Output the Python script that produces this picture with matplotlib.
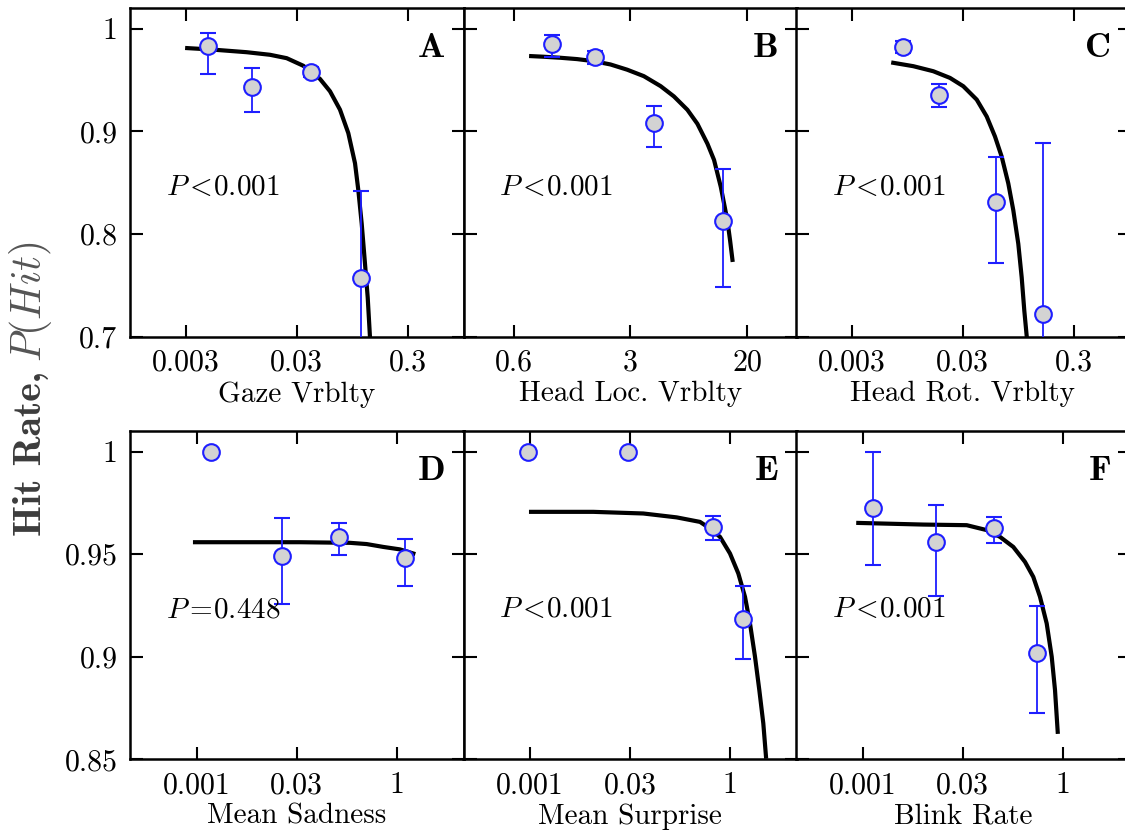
import numpy as np
import matplotlib
matplotlib.use("Agg")
import matplotlib.pyplot as plt

plt.rcParams['font.family'] = ['cmr10', 'DejaVu Serif']
plt.rcParams['mathtext.fontset'] = 'cm'
plt.rcParams['axes.formatter.use_mathtext'] = True

# ---- data ----
# A: gaze variability
gaze_x = [0.00506, 0.0126, 0.0425, 0.120]
gaze_y = [0.983, 0.943, 0.958, 0.757]
gaze_lo = [0.956, 0.919, 0.953, 0.672]
gaze_hi = [0.996, 0.962, 0.963, 0.842]
gaze_fit_x = [0.00327, 0.00561, 0.01122, 0.01816, 0.02567, 0.03623, 0.05117, 0.06296,
              0.07745, 0.0920, 0.1057, 0.1132, 0.1214, 0.130, 0.1375, 0.1442]
gaze_fit_y = [0.981, 0.9795, 0.977, 0.9745, 0.9712, 0.9638, 0.951, 0.939,
              0.9211, 0.8983, 0.869, 0.8428, 0.8103, 0.7712, 0.7385, 0.6994]

# B: head location variability
hloc_x = [1.073, 1.955, 4.39, 11.45]
hloc_y = [0.9846, 0.9722, 0.908, 0.8125]
hloc_lo = [0.972, 0.966, 0.885, 0.749]
hloc_hi = [0.9934, 0.978, 0.925, 0.863]
hloc_fit_x = [0.805, 0.955, 1.204, 1.517, 1.909, 2.405, 3.03, 3.815, 4.81, 5.78,
              6.96, 7.99, 9.18, 10.06, 11.04, 11.55, 12.1, 12.55, 12.97]
hloc_fit_y = [0.9732, 0.9726, 0.9716, 0.9703, 0.9683, 0.9651, 0.960, 0.9537, 0.944, 0.934,
              0.921, 0.9074, 0.888, 0.8722, 0.846, 0.8298, 0.813, 0.794, 0.775]

# C: head rotation variability
hrot_x = [0.00923, 0.0193, 0.0625, 0.168]
hrot_y = [0.982, 0.9357, 0.831, 0.722]
hrot_lo = [0.9765, 0.924, 0.772, 0.556]
hrot_hi = [0.9875, 0.946, 0.875, 0.8885]
hrot_fit_x = [0.0075, 0.01136, 0.01718, 0.02428, 0.03199, 0.04222, 0.05193, 0.06166,
              0.07085, 0.08122, 0.0901, 0.0999, 0.1072, 0.1132, 0.1189]
hrot_fit_y = [0.9667, 0.9634, 0.9585, 0.952, 0.9439, 0.9309, 0.9145, 0.895,
              0.8754, 0.8494, 0.8233, 0.7907, 0.758, 0.7255, 0.701]

# D: mean sadness
sad_x = [0.00162, 0.019, 0.1375, 1.328]
sad_y = [1.0, 0.9492, 0.9583, 0.9479]
sad_lo = [1.0, 0.9256, 0.9498, 0.9346]
sad_hi = [1.0, 0.9674, 0.965, 0.9574]
sad_fit_x = [0.000944, 0.0354, 0.1988, 0.353, 0.628, 1.117, 1.77]
sad_fit_y = [0.9558, 0.9558, 0.9555, 0.9549, 0.9535, 0.9523, 0.9503]

# E: mean surprise
sur_x = [0.00092, 0.0296, 0.545, 1.55]
sur_y = [1.0, 1.0, 0.9633, 0.9182]
sur_lo = [1.0, 1.0, 0.9568, 0.899]
sur_hi = [1.0, 1.0, 0.9685, 0.9344]
sur_fit_x = [0.00103, 0.00884, 0.0496, 0.157, 0.3513, 0.4962, 0.7009, 0.9897, 1.318,
             1.661, 1.974, 2.346, 2.721, 3.125, 3.429]
sur_fit_y = [0.9706, 0.9706, 0.9698, 0.9679, 0.9657, 0.9625, 0.9584, 0.9503, 0.9406,
             0.9292, 0.9162, 0.900, 0.8838, 0.8675, 0.8513]

# F: blink rate
blink_x = [0.00144, 0.0124, 0.0932, 0.406]
blink_y = [0.9725, 0.9558, 0.9625, 0.9019]
blink_lo = [0.9445, 0.9295, 0.9552, 0.8727]
blink_hi = [0.9997, 0.9737, 0.9679, 0.9247]
blink_fit_x = [0.000859, 0.0081, 0.03624, 0.07227, 0.1144, 0.1811, 0.2712, 0.3611,
               0.4551, 0.5736, 0.682, 0.7639, 0.8386]
blink_fit_y = [0.9652, 0.9644, 0.9641, 0.9617, 0.9584, 0.9535, 0.9462, 0.9389,
               0.9292, 0.9162, 0.900, 0.8838, 0.8634]

xlabels = ['Gaze Vrblty', 'Head Loc. Vrblty', 'Head Rot. Vrblty',
           'Mean Sadness', 'Mean Surprise', 'Blink Rate']
letters = ['A', 'B', 'C', 'D', 'E', 'F']
pvals = [r'$P{<}\!0.001$', r'$P{<}\!0.001$', r'$P{<}\!0.001$',
         r'$P{=}\!0.448$', r'$P{<}\!0.001$', r'$P{<}\!0.001$']

# tick positions given as log10 exponents, labels as printed
xt_small = [-2.5, -1.5, -0.5]
xt_small_lab = ['0.003', '0.03', '0.3']
xt_loc = [-0.2, 0.5, 1.2]
xt_loc_lab = ['0.6', '3', '20']
xt_wide = [-3, -1.5, 0]
xt_wide_lab = ['0.001', '0.03', '1']

top_yt = [0.7, 0.8, 0.9, 1.0]
top_yt_lab = ['0.7', '0.8', '0.9', '1']
bot_yt = [0.85, 0.9, 0.95, 1.0]
bot_yt_lab = ['0.85', '0.9', '0.95', '1']

panels = [
    (gaze_x, gaze_y, gaze_lo, gaze_hi, gaze_fit_x, gaze_fit_y, (1e-3, 1), xt_small, xt_small_lab),
    (hloc_x, hloc_y, hloc_lo, hloc_hi, hloc_fit_x, hloc_fit_y, (10**-0.5, 10**1.5), xt_loc, xt_loc_lab),
    (hrot_x, hrot_y, hrot_lo, hrot_hi, hrot_fit_x, hrot_fit_y, (1e-3, 1), xt_small, xt_small_lab),
    (sad_x, sad_y, sad_lo, sad_hi, sad_fit_x, sad_fit_y, (1e-4, 10), xt_wide, xt_wide_lab),
    (sur_x, sur_y, sur_lo, sur_hi, sur_fit_x, sur_fit_y, (1e-4, 10), xt_wide, xt_wide_lab),
    (blink_x, blink_y, blink_lo, blink_hi, blink_fit_x, blink_fit_y, (1e-4, 10), xt_wide, xt_wide_lab),
]

W, H = 1125, 830
fig = plt.figure(figsize=(W / 100, H / 100), dpi=100)

lefts = [130, 463.5, 796]
aw = 333.5
rows = [(8, 337), (431, 759.3)]
blue = '#1e1eff'

for i, (x, y, lo, hi, fx, fy, xlim, xt, xtl) in enumerate(panels):
    r, c = divmod(i, 3)
    top, bot = rows[r]
    ax = fig.add_axes([lefts[c] / W, 1 - bot / H, aw / W, (bot - top) / H])
    ax.set_xscale('log')
    ax.plot(fx, fy, color='black', lw=3, zorder=2, solid_joinstyle='round')
    x = np.array(x); y = np.array(y)
    yerr = [y - np.array(lo), np.array(hi) - y]
    ax.errorbar(x, y, yerr=yerr, fmt='o', ms=12, mfc='#d3d3d3', mec=blue,
                mew=1.5, ecolor=blue, elinewidth=1.3, capsize=5.8, capthick=1.3,
                zorder=3)
    ax.set_xlim(*xlim)
    ax.set_xticks([10.0 ** e for e in xt])
    ax.set_xticklabels(xtl)
    ax.xaxis.set_minor_locator(matplotlib.ticker.NullLocator())
    if r == 0:
        ax.set_ylim(0.7, 1.02)
        ax.set_yticks(top_yt)
        ax.set_yticklabels(top_yt_lab)
    else:
        ax.set_ylim(0.85, 1.01)
        ax.set_yticks(bot_yt)
        ax.set_yticklabels(bot_yt_lab)
    ax.tick_params(direction='in', length=9, width=1.5, top=True, right=True,
                   labelsize=21.5, pad=9, labelleft=(c == 0))
    for s in ax.spines.values():
        s.set_linewidth(1.8)
    ax.set_xlabel(xlabels[i], fontsize=21, labelpad=3)
    ax.text(0.945, 0.852, letters[i], transform=ax.transAxes, ha='right',
            va='baseline', fontsize=26, family='cmb10')
    ax.text(0.107, 0.432, pvals[i], transform=ax.transAxes, ha='left',
            va='baseline', fontsize=21)

# shared y label: bold part, then the math part right after it
t1 = fig.text(41 / W, 1 - 536 / H, 'Hit Rate,', rotation=90, rotation_mode='anchor',
              ha='left', va='baseline', fontsize=28.5, family='cmb10', color='#3c3c3c')
fig.canvas.draw()
bb = t1.get_window_extent()
fig.text(41 / W, (bb.y1 + 9) / H, r'$P(Hit)$', rotation=90, rotation_mode='anchor',
         ha='left', va='baseline', fontsize=30, color='#555555')

fig.savefig('out.png', dpi=100)
